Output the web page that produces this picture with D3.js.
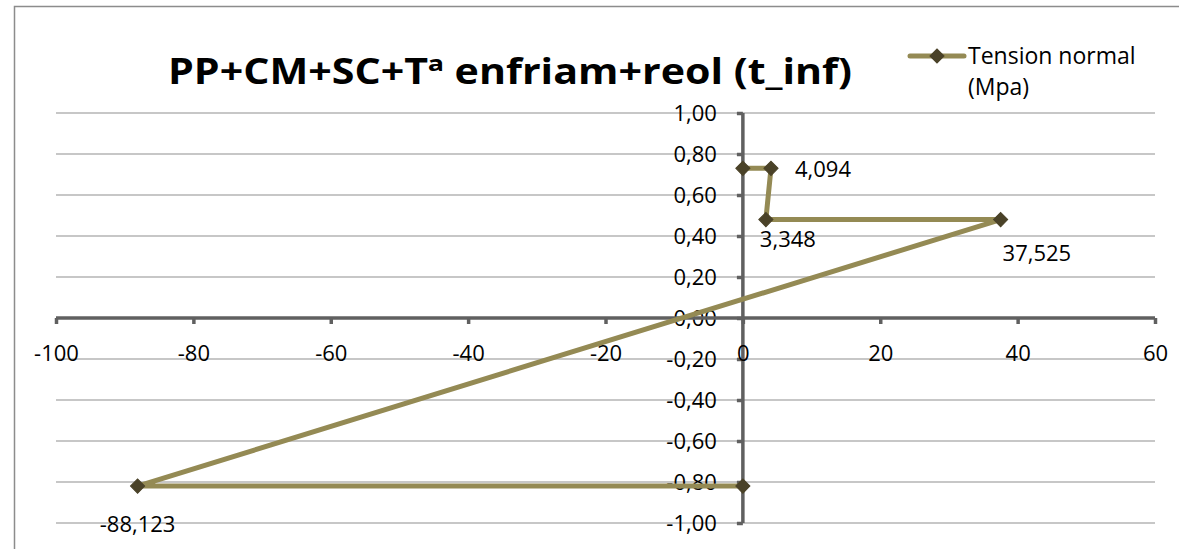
<!DOCTYPE html>
<html>
<head>
<meta charset="utf-8">
<script src="https://cdn.jsdelivr.net/npm/d3@7"></script>
<style>
  html, body { margin: 0; padding: 0; background: #fff; }
  svg { display: block; }
  text { font-family: "Open Sans", "Noto Sans", sans-serif; fill: #000; }
</style>
</head>
<body>
<svg id="chart" width="1179" height="549"></svg>
<script>
// Series: normal stress through the section (x = tension, y = fibre position)
const tensionX = [0, 4.094, 3.348, 37.525, -88.123, 0];
const heightY  = [0.73, 0.73, 0.48, 0.48, -0.82, -0.82];
// Points that carry a value label (index into the series)
const labelIdx = [1, 2, 3, 4];
const xTicks = [-100, -80, -60, -40, -20, 0, 20, 40, 60];
const yTicks = [-1.0, -0.8, -0.6, -0.4, -0.2, 0.0, 0.2, 0.4, 0.6, 0.8, 1.0];
const titleText = "PP+CM+SC+Tª enfriam+reol (t_inf)";
const seriesName = ["Tension normal", "(Mpa)"];

const locale = d3.formatLocale({ decimal: ",", thousands: ".", grouping: [3], currency: ["", "€"], minus: "-" });
const fmtY = locale.format(".2f");
const fmtX = locale.format("d");
const fmtLbl = locale.format(".3f");

const svg = d3.select("#chart");
const lineColor = "#948a54";
const markColor = "#4a4228";

// outer chart frame
svg.append("rect")
  .attr("x", 14.5).attr("y", 6.5)
  .attr("width", 1300).attr("height", 700)
  .attr("fill", "none").attr("stroke", "#8c8c8c").attr("stroke-width", 1.5);

const x = d3.scaleLinear().domain([-100, 60]).range([56, 1155]);
const y = d3.scaleLinear().domain([-1, 1]).range([523, 113]);

// horizontal gridlines
svg.append("g").selectAll("line").data(yTicks).join("line")
  .attr("x1", x(-100)).attr("x2", x(60))
  .attr("y1", d => y(d)).attr("y2", d => y(d))
  .attr("stroke", "#b4b4b4").attr("stroke-width", 1.5);

// y axis crossing at x = 0
const yAxis = svg.append("g")
  .attr("transform", `translate(${x(0)},0)`)
  .call(d3.axisLeft(y).tickValues(yTicks).tickSize(6).tickPadding(20).tickFormat(fmtY));
// x axis crossing at y = 0
const xAxis = svg.append("g")
  .attr("transform", `translate(0,${y(0)})`)
  .call(d3.axisBottom(x).tickValues(xTicks).tickSize(6).tickPadding(21).tickFormat(fmtX));

[yAxis, xAxis].forEach(g => {
  g.select(".domain").attr("stroke", "#606060").attr("stroke-width", 3.5);
  g.selectAll(".tick line").attr("stroke", "#606060").attr("stroke-width", 3.5);
  g.selectAll(".tick text").style("font-size", "22px").attr("fill", "#000");
});
yAxis.select(".domain").attr("d", `M0,${y(1)}V${y(-1)}`);
xAxis.select(".domain").attr("d", `M${x(-100)},0H${x(60)}`);
yAxis.selectAll(".tick text").attr("dy", "0.36em");

// series polyline
const pts = tensionX.map((v, i) => [v, heightY[i]]);
svg.append("path")
  .datum(pts)
  .attr("d", d3.line().x(d => x(d[0])).y(d => y(d[1])))
  .attr("fill", "none").attr("stroke", lineColor).attr("stroke-width", 5)
  .attr("stroke-linejoin", "round");

// diamond markers
const diamond = d3.symbol().type(d3.symbolSquare).size(100);
svg.append("g").selectAll("path").data(pts).join("path")
  .attr("d", diamond)
  .attr("transform", d => `translate(${x(d[0])},${y(d[1])}) rotate(45)`)
  .attr("fill", markColor).attr("stroke", markColor).attr("stroke-width", 1);

// value labels
const labelPos = {
  1: { dx: 24, dy: 9, anchor: "start" },
  2: { dx: -6, dy: 27, anchor: "start" },
  3: { dx: 2, dy: 41, anchor: "start" },
  4: { dx: 0, dy: 46, anchor: "middle" }
};
svg.append("g").selectAll("text").data(labelIdx).join("text")
  .attr("x", i => x(tensionX[i]) + labelPos[i].dx)
  .attr("y", i => y(heightY[i]) + labelPos[i].dy)
  .attr("text-anchor", i => labelPos[i].anchor)
  .style("font-size", "22px")
  .text(i => fmtLbl(tensionX[i]));

// title
svg.append("text")
  .attr("x", 168).attr("y", 84)
  .attr("textLength", 684).attr("lengthAdjust", "spacingAndGlyphs")
  .style("font-size", "35px").style("font-weight", "bold")
  .text(titleText);

// legend
const lg = svg.append("g");
lg.append("line").attr("x1", 910).attr("x2", 964).attr("y1", 56).attr("y2", 56)
  .attr("stroke", lineColor).attr("stroke-width", 5).attr("stroke-linecap", "round");
lg.append("path").attr("d", diamond)
  .attr("transform", "translate(937,56) rotate(45)")
  .attr("fill", markColor).attr("stroke", markColor);
lg.selectAll("text").data(seriesName).join("text")
  .attr("x", 968).attr("y", (d, i) => 64 + i * 31)
  .style("font-size", "23px")
  .text(d => d);
</script>
</body>
</html>
